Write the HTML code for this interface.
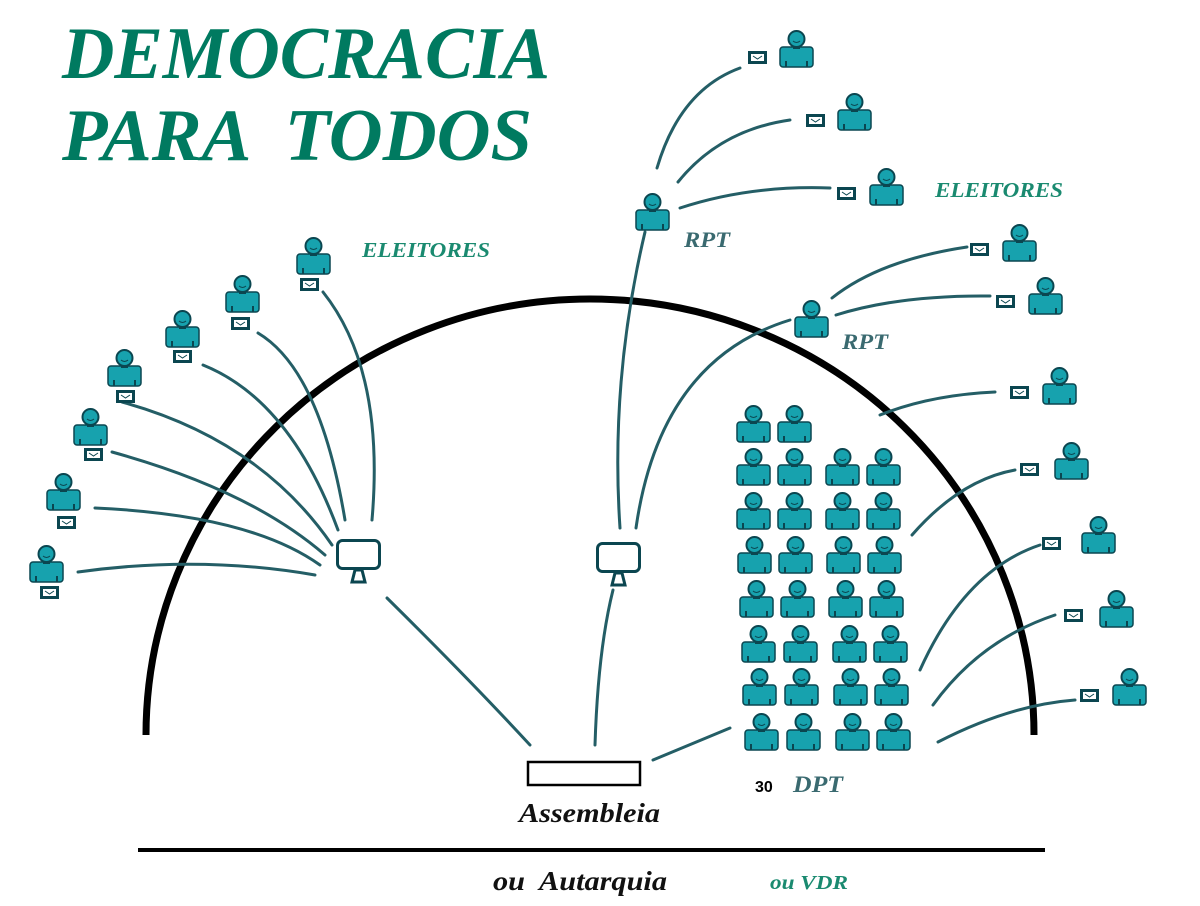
<!DOCTYPE html>
<html><head><meta charset="utf-8"><style>
html,body{margin:0;padding:0;background:#fff;width:1200px;height:906px;overflow:hidden}
svg{display:block}
.t{font-family:"Liberation Serif",serif;font-style:italic;font-weight:bold}
</style></head><body>
<svg width="1200" height="906" viewBox="0 0 1200 906" xmlns="http://www.w3.org/2000/svg">
<defs>
<g id="p">
<rect x="0" y="17" width="33" height="20" rx="3" fill="#17a2ae" stroke="#0b4650" stroke-width="1.5"/>
<rect x="13" y="13" width="7" height="6" fill="#0b4650"/>
<circle cx="16.5" cy="9" r="8" fill="#17a2ae" stroke="#0b4650" stroke-width="2"/>
<path d="M13 11 q3.5 3 7 0" fill="none" stroke="#0b4650" stroke-width="1"/>
<path d="M6 37 v-6 M27 37 v-6" stroke="#0b4650" stroke-width="2"/>
</g>
<g id="e">
<rect x="1.5" y="1.5" width="16" height="10" fill="#fff" stroke="#0b4650" stroke-width="3"/>
<path d="M5 5 l4.5 3 l4.5 -3" fill="none" stroke="#0b4650" stroke-width="1"/>
</g>
<g id="m">
<rect x="1.5" y="1.5" width="42" height="28" rx="5" fill="#fff" stroke="#0b4650" stroke-width="3"/>
<path d="M19 31 l-3 12 h13 l-3 -12 z" fill="#fff" stroke="#0b4650" stroke-width="3"/>
</g>
</defs>

<text class="t" x="62" y="78" font-size="74" fill="#007a60" textLength="488" lengthAdjust="spacingAndGlyphs">DEMOCRACIA</text>
<text class="t" x="62" y="160" font-size="74" fill="#007a60" textLength="470" lengthAdjust="spacingAndGlyphs" xml:space="preserve">PARA  TODOS</text>

<path d="M146 735 A444 436 0 0 1 1034 735" fill="none" stroke="#000" stroke-width="7"/>

<g fill="none" stroke="#245e66" stroke-width="3" stroke-linecap="round">
<path d="M78 572 Q200 555 315 575"/>
<path d="M95 508 Q250 515 320 565"/>
<path d="M112 452 Q250 490 325 555"/>
<path d="M122 402 Q260 440 332 545"/>
<path d="M203 365 Q290 400 338 530"/>
<path d="M258 333 Q320 370 345 520"/>
<path d="M323 292 Q385 370 372 520"/>
<path d="M387 598 Q470 680 530 745"/>
<path d="M620 528 Q610 380 645 232"/>
<path d="M636 528 Q660 360 790 320"/>
<path d="M613 590 Q598 650 595 745"/>
<path d="M657 168 Q680 90 740 68"/>
<path d="M678 182 Q720 130 790 120"/>
<path d="M680 208 Q750 185 830 188"/>
<path d="M832 298 Q880 260 967 247"/>
<path d="M836 315 Q900 295 990 296"/>
<path d="M880 415 Q930 395 995 392"/>
<path d="M912 535 Q960 480 1015 470"/>
<path d="M920 670 Q965 570 1040 545"/>
<path d="M933 705 Q980 640 1055 615"/>
<path d="M938 742 Q1010 705 1075 700"/>
<path d="M653 760 L730 728"/>
</g>

<use href="#m" x="336" y="539"/>
<use href="#m" x="596" y="542"/>

<use href="#p" x="30" y="545"/><use href="#e" x="40" y="586"/>
<use href="#p" x="47" y="473"/><use href="#e" x="57" y="516"/>
<use href="#p" x="74" y="408"/><use href="#e" x="84" y="448"/>
<use href="#p" x="108" y="349"/><use href="#e" x="116" y="390"/>
<use href="#p" x="166" y="310"/><use href="#e" x="173" y="350"/>
<use href="#p" x="226" y="275"/><use href="#e" x="231" y="317"/>
<use href="#p" x="297" y="237"/><use href="#e" x="300" y="278"/>

<use href="#p" x="780" y="30"/><use href="#e" x="748" y="51"/>
<use href="#p" x="838" y="93"/><use href="#e" x="806" y="114"/>
<use href="#p" x="870" y="168"/><use href="#e" x="837" y="187"/>
<use href="#p" x="636" y="193"/>
<use href="#p" x="1003" y="224"/><use href="#e" x="970" y="243"/>
<use href="#p" x="1029" y="277"/><use href="#e" x="996" y="295"/>
<use href="#p" x="795" y="300"/>
<use href="#p" x="1043" y="367"/><use href="#e" x="1010" y="386"/>
<use href="#p" x="1055" y="442"/><use href="#e" x="1020" y="463"/>
<use href="#p" x="1082" y="516"/><use href="#e" x="1042" y="537"/>
<use href="#p" x="1100" y="590"/><use href="#e" x="1064" y="609"/>
<use href="#p" x="1113" y="668"/><use href="#e" x="1080" y="689"/>

<use href="#p" x="737" y="405"/><use href="#p" x="778" y="405"/>
<use href="#p" x="737" y="448"/><use href="#p" x="778" y="448"/><use href="#p" x="826" y="448"/><use href="#p" x="867" y="448"/>
<use href="#p" x="737" y="492"/><use href="#p" x="778" y="492"/><use href="#p" x="826" y="492"/><use href="#p" x="867" y="492"/>
<use href="#p" x="738" y="536"/><use href="#p" x="779" y="536"/><use href="#p" x="827" y="536"/><use href="#p" x="868" y="536"/>
<use href="#p" x="740" y="580"/><use href="#p" x="781" y="580"/><use href="#p" x="829" y="580"/><use href="#p" x="870" y="580"/>
<use href="#p" x="742" y="625"/><use href="#p" x="784" y="625"/><use href="#p" x="833" y="625"/><use href="#p" x="874" y="625"/>
<use href="#p" x="743" y="668"/><use href="#p" x="785" y="668"/><use href="#p" x="834" y="668"/><use href="#p" x="875" y="668"/>
<use href="#p" x="745" y="713"/><use href="#p" x="787" y="713"/><use href="#p" x="836" y="713"/><use href="#p" x="877" y="713"/>

<rect x="528" y="762" width="112" height="23" fill="#fff" stroke="#000" stroke-width="2.5"/>
<line x1="138" y1="850" x2="1045" y2="850" stroke="#000" stroke-width="4"/>

<text class="t" x="362" y="257" font-size="21" fill="#1a8a70" textLength="128" lengthAdjust="spacingAndGlyphs">ELEITORES</text>
<text class="t" x="935" y="197" font-size="21" fill="#1a8a70" textLength="128" lengthAdjust="spacingAndGlyphs">ELEITORES</text>
<text class="t" x="684" y="247" font-size="22" fill="#3a6a70" textLength="46" lengthAdjust="spacingAndGlyphs">RPT</text>
<text class="t" x="842" y="349" font-size="22" fill="#3a6a70" textLength="46" lengthAdjust="spacingAndGlyphs">RPT</text>
<text x="755" y="792" font-family="Liberation Sans,sans-serif" font-weight="bold" font-size="16" fill="#000">30</text>
<text class="t" x="793" y="792" font-size="23" fill="#3a6a70" textLength="50" lengthAdjust="spacingAndGlyphs">DPT</text>
<text class="t" x="519" y="822" font-size="27" fill="#111" textLength="141" lengthAdjust="spacingAndGlyphs">Assembleia</text>
<text class="t" x="493" y="890" font-size="27" fill="#111" xml:space="preserve" textLength="174" lengthAdjust="spacingAndGlyphs">ou  Autarquia</text>
<text class="t" x="770" y="889" font-size="20" fill="#1a8a70" textLength="78" lengthAdjust="spacingAndGlyphs">ou VDR</text>
</svg>
</body></html>
